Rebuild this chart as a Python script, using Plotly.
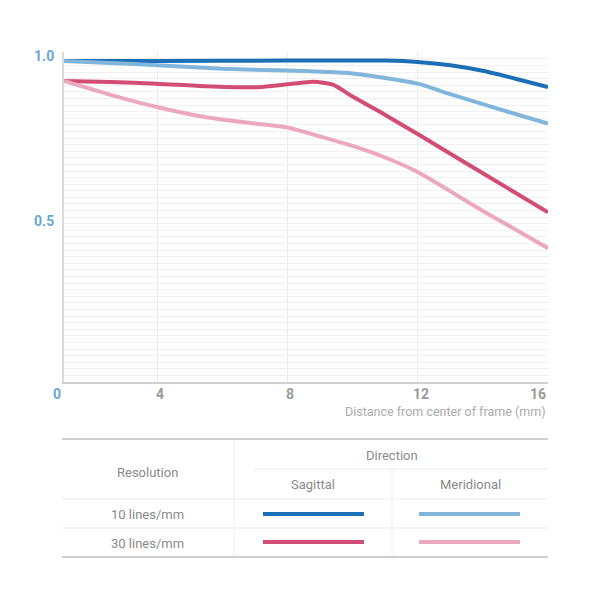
import plotly.graph_objects as go

# ---------------- data ----------------
x_ticks_mm = [0, 4, 8, 12, 16]
x_tick_labels = ["0", "4", "8", "12", "16"]
y_tick_labels = {0.5: "0.5", 1.0: "1.0"}

s10_x = [0, 4, 8, 11, 12, 13, 14, 15, 16]
s10_y = [0.974, 0.974, 0.975, 0.975, 0.971, 0.961, 0.944, 0.920, 0.895]

m10_x = [0, 2, 4, 6, 8, 9.8, 11, 12, 13, 14, 15, 16]
m10_y = [0.974, 0.968, 0.961, 0.950, 0.945, 0.938, 0.922, 0.905, 0.873, 0.843, 0.813, 0.784]

s30_x = [0, 2, 4, 5.5, 7, 8, 8.8, 9.4, 10, 10.8, 12, 14, 16]
s30_y = [0.913, 0.910, 0.905, 0.897, 0.894, 0.903, 0.911, 0.902, 0.866, 0.822, 0.752, 0.633, 0.515]

m30_x = [0, 2, 4, 5.5, 7, 8, 9, 10, 11, 12, 14, 16]
m30_y = [0.913, 0.871, 0.834, 0.803, 0.784, 0.772, 0.745, 0.716, 0.681, 0.637, 0.519, 0.406]

series = [
    ("10 lines/mm Sagittal", s10_x, s10_y, "#1b6fb6"),
    ("10 lines/mm Meridional", m10_x, m10_y, "#82b5dc"),
    ("30 lines/mm Sagittal", s30_x, s30_y, "#d24d74"),
    ("30 lines/mm Meridional", m30_x, m30_y, "#eca8be"),
]

row_labels = ["10 lines/mm", "30 lines/mm"]
col_labels = ["Sagittal", "Meridional"]


# The reference draws the 0-4 mm segment compressed relative to 4-16 mm.
def disp(mm):
    return mm if mm >= 4 else 4 - (4 - mm) * 2.855 / 4


def px_x(p):
    return p / 600


def px_y(p):
    return 1 - p / 600


fig = go.Figure()
for name, xs, ys, col in series:
    fig.add_trace(go.Scatter(
        x=[disp(v) for v in xs], y=ys, mode="lines", name=name,
        line=dict(color=col, width=4, shape="spline", smoothing=0.6),
        showlegend=False, hoverinfo="skip"))

y_vals = [round(i * 0.02, 2) for i in range(51)]
y_text = [y_tick_labels.get(v, "") for v in y_vals]

fig.update_layout(
    width=600, height=600,
    margin=dict(l=0, r=0, t=0, b=0),
    paper_bgcolor="white", plot_bgcolor="white",
    font=dict(family="Roboto, Liberation Sans, sans-serif", color="#8c8c8c"),
    xaxis=dict(
        domain=[64 / 600, 548 / 600], range=[disp(0), 16],
        tickmode="array", tickvals=[disp(v) for v in x_ticks_mm[1:4]],
        showticklabels=False, ticks="", showgrid=True, gridcolor="#ebebeb", gridwidth=1,
        showline=True, linecolor="#cfcfcf", linewidth=2, zeroline=False, automargin=False,
    ),
    yaxis=dict(
        domain=[1 - 382 / 600, 1 - 52 / 600], range=[0, 1.001],
        tickmode="array", tickvals=y_vals, ticktext=y_text, ticks="",
        tickfont=dict(size=14, color="#6aa8d4", weight="bold"),
        ticklabelshift=4, ticklabelstandoff=5,
        showgrid=True, gridcolor="#f0f0f0", gridwidth=1,
        showline=True, linecolor="#dadada", linewidth=2, zeroline=False, automargin=False,
    ),
)

annotations = []
# x tick labels
for mm, lab in zip(x_ticks_mm, x_tick_labels):
    if mm == 0:
        anchor, shift, col = "right", -1, "#6aa8d4"
    elif mm == 16:
        anchor, shift, col = "right", 0, "#9a9a9a"
    else:
        anchor, shift, col = "center", 3, "#9a9a9a"
    annotations.append(dict(x=disp(mm), y=px_y(394), xref="x", yref="paper", text=lab,
                            showarrow=False, xanchor=anchor, yanchor="middle", xshift=shift,
                            font=dict(size=14, color=col, weight="bold")))
annotations.append(dict(x=16, y=px_y(411), xref="x", yref="paper",
                        text="Distance from center of frame (mm)", showarrow=False,
                        xanchor="right", yanchor="middle",
                        font=dict(size=12.5, color="#ababab")))

# table texts
tcol = "#8a8a8a"
annotations += [
    dict(x=px_x(147), y=px_y(472), text="Resolution"),
    dict(x=px_x(392), y=px_y(455), text="Direction"),
    dict(x=px_x(313), y=px_y(484), text=col_labels[0]),
    dict(x=px_x(470), y=px_y(484), text=col_labels[1]),
    dict(x=px_x(147), y=px_y(514), text=row_labels[0]),
    dict(x=px_x(147), y=px_y(543), text=row_labels[1]),
]
for a in annotations[-6:]:
    a.update(xref="paper", yref="paper", showarrow=False, xanchor="center", yanchor="middle",
             font=dict(size=13, color=tcol))

shapes = []


def hline(x0, x1, y, color, width):
    shapes.append(dict(type="line", xref="paper", yref="paper", x0=px_x(x0), x1=px_x(x1),
                       y0=px_y(y), y1=px_y(y), line=dict(color=color, width=width)))


def vline(x, y0, y1, color, width):
    shapes.append(dict(type="line", xref="paper", yref="paper", x0=px_x(x), x1=px_x(x),
                       y0=px_y(y0), y1=px_y(y1), line=dict(color=color, width=width)))


hline(62, 548, 439, "#cfcfcf", 2)
hline(62, 548, 557, "#cfcfcf", 2)
hline(254, 548, 469, "#ececec", 1)
hline(62, 548, 499, "#ececec", 1)
hline(62, 548, 528, "#ececec", 1)
vline(234, 440, 556, "#ececec", 1)
vline(392, 470, 556, "#ececec", 1)

# legend samples
seg_x = [(263, 364), (419, 520)]
seg_y = [514, 542]
for i, (name, xs, ys, col) in enumerate(series):
    r = i // 2
    c = i % 2
    hline(seg_x[c][0], seg_x[c][1], seg_y[r], col, 4)

fig.update_layout(annotations=annotations, shapes=shapes)
fig.write_html("out.html")
